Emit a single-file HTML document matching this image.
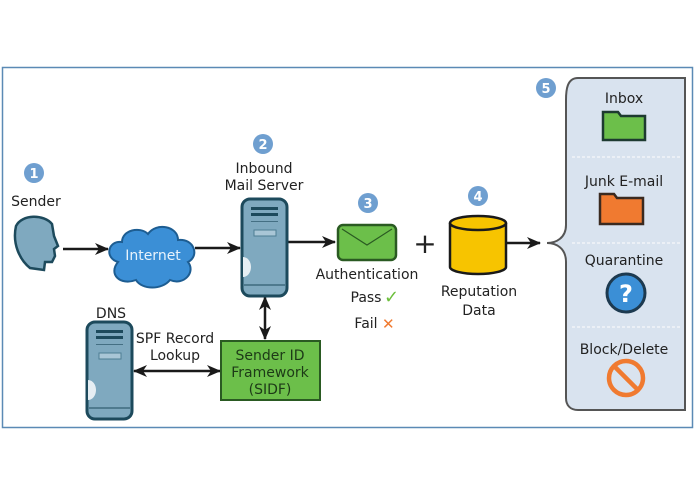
<!DOCTYPE html>
<html><head><meta charset="utf-8"><style>
html,body{margin:0;padding:0;background:#fff;}
svg{display:block;font-family:"DejaVu Sans","Liberation Sans",sans-serif;}
</style></head><body>
<svg width="695" height="494" viewBox="0 0 695 494" xmlns="http://www.w3.org/2000/svg">
<defs>
<marker id="ah" markerWidth="14" markerHeight="12" refX="13" refY="6" orient="auto-start-reverse" markerUnits="userSpaceOnUse"><path d="M0,0 L14,6 L0,12 L4,6 Z" fill="#1a1a1a"/></marker>
<g id="srv">
<rect x="0" y="0" width="45" height="97" rx="8" fill="#7fa9bf" stroke="#1d4a5c" stroke-width="3"/>
<rect x="9" y="8" width="27" height="3" fill="#1d4a5c"/>
<rect x="9" y="14" width="27" height="3" fill="#1d4a5c"/>
<rect x="9" y="22" width="27" height="1" fill="#1d4a5c" opacity=".6"/>
<rect x="12" y="31" width="22" height="6" fill="#a9c6d6" stroke="#4d7d93" stroke-width="1"/>
<path d="M1,58 a8,10 0 0 1 0,20 z" fill="#e6eef3"/>
<line x1="2" y1="86" x2="43" y2="86" stroke="#1d4a5c" stroke-width="1"/>
</g>
</defs>
<rect x="2.5" y="67.5" width="690" height="360" fill="#fff" stroke="#5b8ab5" stroke-width="1.5"/>

<g font-weight="bold" font-size="13" fill="#fff" text-anchor="middle">
<circle cx="34" cy="173" r="10" fill="#6f9fd0"/><text x="34" y="178">1</text>
<circle cx="263" cy="144" r="10" fill="#6f9fd0"/><text x="263" y="149">2</text>
<circle cx="368" cy="203" r="10" fill="#6f9fd0"/><text x="368" y="208">3</text>
<circle cx="478" cy="196" r="10" fill="#6f9fd0"/><text x="478" y="201">4</text>
<circle cx="546" cy="88" r="10" fill="#6f9fd0"/><text x="546" y="93">5</text>
</g>

<g font-size="14" fill="#222" text-anchor="middle">
<text x="36" y="206">Sender</text>
<text x="264" y="173">Inbound</text>
<text x="264" y="190">Mail Server</text>
<text x="111" y="318">DNS</text>
<text x="175" y="343">SPF Record</text>
<text x="175" y="360">Lookup</text>
<text x="367" y="279">Authentication</text>
<text x="366" y="302">Pass</text>
<text x="366" y="328">Fail</text>
<text x="479" y="296">Reputation</text>
<text x="479" y="315">Data</text>
</g>
<text x="384" y="303" font-size="18" fill="#6cbf3c" font-weight="bold">✓</text>
<text x="382" y="329" font-size="15" fill="#f07a30" font-weight="bold">✕</text>

<path d="M16,226 C22,214 44,214 52,224 L54,236 L58,246 L54,249 L55,256 L52,262 L45,262 L44,270 L30,268 C20,260 12,244 16,226 Z" fill="#7fa9bf" stroke="#1d4a5c" stroke-width="2.5"/>

<g stroke="#1a1a1a" stroke-width="2.5" fill="none">
<line x1="63" y1="249" x2="108" y2="249" marker-end="url(#ah)"/>
<line x1="195" y1="248" x2="240" y2="248" marker-end="url(#ah)"/>
<line x1="288" y1="242" x2="335" y2="242" marker-end="url(#ah)"/>
<line x1="265" y1="297" x2="265" y2="339" marker-start="url(#ah)" marker-end="url(#ah)"/>
<line x1="134" y1="371" x2="220" y2="371" marker-start="url(#ah)" marker-end="url(#ah)"/>
<line x1="506" y1="243" x2="540" y2="243" marker-end="url(#ah)"/>
</g>
<text x="425" y="253" font-size="28" fill="#222" text-anchor="middle">+</text>

<path d="M118,262 C104,258 108,240 122,242 C122,230 140,226 148,234 C156,222 178,226 178,240 C194,238 200,256 188,262 C196,272 184,286 170,280 C162,290 142,290 136,280 C120,286 108,274 118,262 Z" fill="#3b8fd6" stroke="#1d5d92" stroke-width="2"/>
<text x="153" y="260" font-size="14" fill="#e8f3fc" text-anchor="middle">Internet</text>

<use href="#srv" x="242" y="199"/>
<use href="#srv" x="87" y="322"/>

<rect x="221" y="341" width="99" height="59" fill="#6cbf4a" stroke="#2a5a22" stroke-width="2"/>
<g font-size="14" fill="#1d3a17" text-anchor="middle">
<text x="270" y="360">Sender ID</text><text x="270" y="377">Framework</text><text x="270" y="394">(SIDF)</text>
</g>

<rect x="338" y="225" width="58" height="35" rx="5" fill="#6cbf4a" stroke="#2a5a22" stroke-width="2.5"/>
<path d="M342,229 L367,245 L392,229" fill="none" stroke="#2a5a22" stroke-width="1.2"/>

<path d="M450,223 L450,267 A28,7 0 0 0 506,267 L506,223" fill="#f7c400" stroke="#1a1a1a" stroke-width="2.5"/>
<ellipse cx="478" cy="223" rx="28" ry="7" fill="#f7c400" stroke="#1a1a1a" stroke-width="2.5"/>

<path d="M685,78 L578,78 C567,78 566,90 566,100 L566,225 C566,238 556,243 547,243 C556,243 566,248 566,262 L566,398 C566,405 570,410 578,410 L685,410 Z" fill="#d9e3ef" stroke="#555" stroke-width="2"/>
<g stroke="#f2f5f9" stroke-width="1.5" stroke-dasharray="3,2">
<line x1="572" y1="157" x2="680" y2="157"/>
<line x1="572" y1="243" x2="680" y2="243"/>
<line x1="572" y1="327" x2="680" y2="327"/>
</g>
<g font-size="14" fill="#222" text-anchor="middle">
<text x="624" y="103">Inbox</text>
<text x="624" y="186">Junk E-mail</text>
<text x="624" y="265">Quarantine</text>
<text x="624" y="354">Block/Delete</text>
</g>
<path d="M603,112 L618,112 L621,116 L645,116 L645,140 L603,140 Z" fill="#6cbf4a" stroke="#1d3a30" stroke-width="2.5"/>
<path d="M600,194 L614,194 L617,198 L643,198 L643,224 L600,224 Z" fill="#f07a30" stroke="#3a2a20" stroke-width="2.5"/>
<circle cx="626" cy="293" r="19" fill="#3b8fd6" stroke="#1d3a50" stroke-width="3"/>
<text x="626" y="302" font-size="24" font-weight="bold" fill="#fff" text-anchor="middle">?</text>
<circle cx="626" cy="378" r="17" fill="none" stroke="#f07a30" stroke-width="4.5"/>
<line x1="614" y1="366" x2="638" y2="390" stroke="#f07a30" stroke-width="4.5"/>
</svg>
</body></html>
